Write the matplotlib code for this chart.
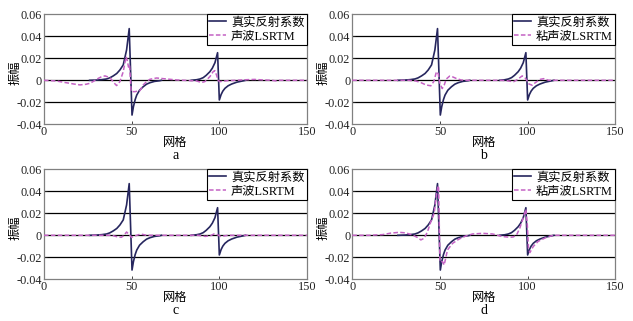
import matplotlib
matplotlib.use('Agg')
import numpy as np
import matplotlib.pyplot as plt
from matplotlib.font_manager import FontProperties

# true reflection coefficient (two segments)
true_x1 = [26, 30, 33, 35.7, 37.5, 39.5, 41.5, 43.3, 45.2, 47.1, 48.6, 50.2, 51, 52, 52.9,
           54.5, 56.6, 58.5, 60.4, 63, 66, 67]
true_y1 = [0, 0.0002, 0.0006, 0.0012, 0.0022, 0.004, 0.0062, 0.0094, 0.014, 0.0276, 0.047,
           -0.0316, -0.024, -0.0175, -0.0134, -0.009, -0.0058, -0.0035, -0.0022, -0.001,
           -0.0004, 0]
true_x2 = [84, 87, 89, 90.8, 92.5, 94.6, 96, 97.5, 99.0, 100.0, 101, 102, 103.2, 105, 107,
           110, 113.6, 115]
true_y2 = [0, 0.0005, 0.0012, 0.0024, 0.0045, 0.0078, 0.011, 0.016, 0.0251, -0.0179, -0.013,
           -0.0098, -0.0073, -0.005, -0.0034, -0.0017, -0.0005, 0]

# panel a: acoustic LSRTM
a_x = [0, 7, 12, 16.7, 20.5, 24, 26.2, 29, 31, 32.9, 34.8, 37.6, 40.5, 41.4, 43.3, 45.2,
       46.8, 47.5, 48.2, 48.8, 49.7, 50.5, 52, 54.7, 56.6, 58.5, 60.4, 64.2, 69.9, 75.6, 80,
       87, 89.8, 91.7, 94.6, 96.5, 97.4, 98.4, 99.3, 100.3, 102, 105, 109.6, 115, 120, 125,
       130, 132, 134, 140, 150]
a_y = [0, -0.0006, -0.002, -0.0033, -0.0042, -0.0036, -0.0027, -0.0002, 0.0018, 0.0033,
       0.004, 0.0024, -0.0033, -0.0048, -0.0012, 0.0079, 0.0215, 0.018, 0.012, 0.014,
       -0.0103, -0.0103, -0.0103, -0.0094, -0.0042, -0.0012, 0.0009, 0.0021, 0.0012, 0.0003,
       0, -0.0006, -0.002, -0.0012, 0.0033, 0.0079, 0.0088, 0.0048, 0, -0.0012, -0.0008,
       -0.0003, 0, 0.0005, 0.0008, 0.0003, 0, -0.0005, 0, 0, 0]

# panel b: viscoacoustic LSRTM
b_x = [0, 32, 36.2, 39, 42, 44.8, 46.5, 48, 49, 50, 51.3, 52.5, 53.5, 55.5, 57, 59.1, 62,
       65, 84.5, 88, 90.2, 92.1, 94, 96.9, 98.8, 100.7, 102.6, 104.5, 107.3, 109.2, 112, 150]
b_y = [0, 0, -0.0006, -0.002, -0.0042, -0.005, -0.001, 0.0079, 0.006, -0.003, -0.0075,
       -0.004, 0.001, 0.0038, 0.0033, 0.0018, 0.0003, 0, 0, -0.0003, -0.0009, -0.0012,
       0.0005, 0.004, 0.0018, -0.0033, -0.0045, -0.002, 0.0009, 0.0015, 0, 0]

# panel c: acoustic LSRTM
c_x = [0, 38.6, 41.4, 44.1, 45.5, 47.1, 48.3, 49.9, 51.9, 54, 55.7, 58.5, 88, 90.2, 92.1,
       95, 96.9, 98.8, 100.7, 102.6, 105, 150]
c_y = [0, 0, -0.0012, -0.0018, -0.0003, 0.003, 0.001, -0.0018, -0.0006, 0.0006, 0.001, 0,
       0, -0.0006, -0.001, -0.0003, 0.0012, 0.0006, -0.001, -0.0006, 0, 0]

# panel d: viscoacoustic LSRTM
d_x = [0, 9.5, 17.2, 22, 26.7, 30.5, 34.3, 37.2, 39.1, 41, 42.9, 44.8, 46.7, 47.7, 48.6,
       49.2, 50, 51.5, 52.4, 54.3, 57.2, 61, 64.8, 68.6, 74.4, 80, 83, 85.1, 89.9, 91.8,
       93.7, 95.6, 97.5, 99, 99.8, 100.5, 101.3, 103.2, 106, 110.8, 114.6, 150]
d_y = [0, 0, 0.0006, 0.002, 0.0027, 0.0022, 0.0003, -0.002, -0.0042, -0.0027, 0.0033,
       0.0124, 0.02, 0.0336, 0.0427, 0.045, -0.024, -0.024, -0.027, -0.0133, -0.0073,
       -0.0033, -0.0006, 0.0012, 0.0018, 0.0012, 0, -0.001, -0.0018, -0.0015, 0.0003,
       0.0068, 0.016, 0.0237, 0.01, -0.0117, -0.0157, -0.0102, -0.0055, -0.0018, 0, 0]

true_label = '真实反射系数'
panel_labels = ['声波LSRTM', '粘声波LSRTM', '声波LSRTM', '粘声波LSRTM']
letters = ['a', 'b', 'c', 'd']
xticks = [0, 50, 100, 150]
yticks = [-0.04, -0.02, 0, 0.02, 0.04, 0.06]
ytick_labels = ['-0.04', '-0.02', '0', '0.02', '0.04', '0.06']

dark = '#26265e'
pink = '#c462c4'
serif = 'Liberation Serif'
mixed = FontProperties(family=[serif, 'Noto Sans CJK SC'], size=8.8)
cjk = FontProperties(family=['Noto Sans CJK SC'], size=8.8)

fig = plt.figure(figsize=(6.33, 3.21), dpi=100)
W, H = 633, 321
boxes = [(44, 14.3), (352.3, 14.3), (44, 169.3), (352.3, 169.3)]  # left, top in px
aw, ah = 263, 110

series = [(a_x, a_y), (b_x, b_y), (c_x, c_y), (d_x, d_y)]

for i, (l, t) in enumerate(boxes):
    ax = fig.add_axes([l / W, 1 - (t + ah) / H, aw / W, ah / H])
    for yv in [-0.02, 0, 0.02, 0.04]:
        ax.axhline(yv, color='black', lw=0.9, zorder=1)
    ax.plot(true_x1, true_y1, color=dark, lw=1.2, zorder=2, label=true_label)
    ax.plot(true_x2, true_y2, color=dark, lw=1.2, zorder=2)
    sx, sy = series[i]
    ax.plot(sx, sy, color=pink, lw=1.1, ls=(0, (3, 1.5)), zorder=3, label=panel_labels[i])
    ax.set_xlim(0, 150)
    ax.set_ylim(-0.04, 0.06)
    ax.set_xticks(xticks)
    ax.set_xticklabels([str(v) for v in xticks], fontfamily=serif, fontsize=8.8)
    ax.set_yticks(yticks)
    ax.set_yticklabels(ytick_labels, fontfamily=serif, fontsize=8.8)
    ax.tick_params(direction='in', length=2.5, width=0.6, pad=1.5, colors='#222222')
    for sp in ax.spines.values():
        sp.set_color('#808080')
        sp.set_linewidth(0.9)
    leg = ax.legend(loc='upper right', prop=mixed, frameon=True, fancybox=False,
                    borderaxespad=0, handlelength=1.4, handletextpad=0.4,
                    borderpad=0.2, labelspacing=0.15)
    leg.get_frame().set_edgecolor('black')
    leg.get_frame().set_linewidth(0.8)
    leg.get_frame().set_alpha(1)
    ax.text(-0.112, 0.47, '振幅', transform=ax.transAxes, rotation=90,
            ha='center', va='center', fontproperties=cjk)
    ax.text(0.5, -0.165, '网格', transform=ax.transAxes, ha='center', va='center',
            fontproperties=cjk)
    ax.text(0.5, -0.285, letters[i], transform=ax.transAxes, ha='center', va='center',
            fontfamily=serif, fontsize=10)

fig.savefig('out.png', dpi=100)
